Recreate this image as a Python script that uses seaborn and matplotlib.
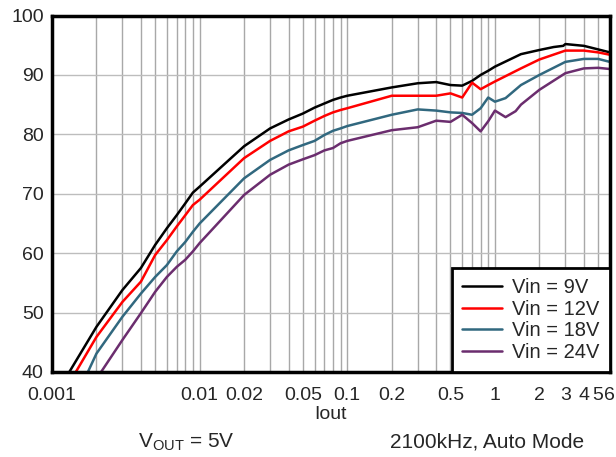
import matplotlib
matplotlib.use("Agg")
import matplotlib.pyplot as plt
from matplotlib.ticker import FixedLocator, NullFormatter
import seaborn as sns
import pandas as pd

sns.set_theme(style="white")
plt.rcParams["font.family"] = ["Liberation Sans", "DejaVu Sans"]
plt.rcParams["mathtext.fontset"] = "custom"
plt.rcParams["mathtext.rm"] = "Liberation Sans"

# efficiency curves

x_9v = [0.00131, 0.002, 0.003, 0.004, 0.005, 0.006, 0.007, 0.008, 0.009, 0.01,
        0.02, 0.03, 0.04, 0.05, 0.06, 0.07, 0.08, 0.09, 0.1,
        0.2, 0.3, 0.4, 0.5, 0.6, 0.7, 0.8, 0.9, 1, 1.5, 2, 2.5, 2.9, 3, 4, 5, 6]
y_9v = [40, 47.6, 53.8, 57.5, 61.4, 64.2, 66.4, 68.4, 70.2, 71.2,
        78.0, 81.0, 82.5, 83.5, 84.5, 85.2, 85.8, 86.2, 86.5,
        87.9, 88.6, 88.8, 88.3, 88.2, 89.0, 90.0, 90.7, 91.4, 93.5, 94.2, 94.7, 94.9, 95.2, 94.9, 94.3, 93.8]

x_12v = [0.00145, 0.002, 0.003, 0.004, 0.005, 0.006, 0.007, 0.008, 0.009, 0.01,
         0.02, 0.03, 0.04, 0.05, 0.06, 0.07, 0.08, 0.09, 0.1,
         0.2, 0.3, 0.4, 0.5, 0.6, 0.7, 0.8, 0.9, 1, 1.5, 2, 3, 4, 5, 6]
y_12v = [40, 45.9, 51.8, 55.2, 59.7, 62.2, 64.5, 66.4, 68.1, 69.0,
         76.0, 78.9, 80.5, 81.3, 82.3, 83.1, 83.7, 84.1, 84.4,
         86.5, 86.5, 86.5, 86.9, 86.2, 88.7, 87.6, 88.3, 88.9, 91.1, 92.6, 94.1, 94.1, 93.8, 93.4]

x_18v = [0.00175, 0.002, 0.003, 0.004, 0.005, 0.006, 0.007, 0.008, 0.009, 0.01,
         0.02, 0.03, 0.04, 0.05, 0.06, 0.07, 0.08, 0.09, 0.1,
         0.2, 0.3, 0.4, 0.5, 0.6, 0.7, 0.8, 0.9, 1, 1.18, 1.5, 2, 3, 4, 5, 6]
y_18v = [40, 43.1, 49.3, 53.2, 56.0, 58.0, 60.3, 61.9, 63.6, 65.0,
         72.6, 75.7, 77.3, 78.2, 78.9, 79.9, 80.6, 81.0, 81.4,
         83.3, 84.2, 84.0, 83.7, 83.6, 83.3, 84.4, 86.2, 85.5, 86.1, 88.3, 90.0, 92.2, 92.7, 92.7, 92.2]

x_24v = [0.00215, 0.003, 0.004, 0.005, 0.006, 0.007, 0.008, 0.009, 0.01,
         0.02, 0.03, 0.04, 0.05, 0.06, 0.07, 0.08, 0.09, 0.1,
         0.2, 0.3, 0.4, 0.5, 0.6, 0.7, 0.8, 0.9, 1, 1.18, 1.38, 1.5, 2, 3, 4, 5, 6]
y_24v = [40, 45.4, 49.9, 53.5, 56.0, 57.7, 58.9, 60.3, 61.7,
         69.8, 73.2, 74.9, 75.8, 76.5, 77.3, 77.7, 78.5, 78.9,
         80.7, 81.2, 82.3, 82.1, 83.3, 81.9, 80.5, 82.2, 84.0, 82.9, 83.9, 85.0, 87.5, 90.3, 91.1, 91.2, 91.0]

series = ["Vin = 9V", "Vin = 12V", "Vin = 18V", "Vin = 24V"]
colors = ["#000000", "#ff0000", "#31687f", "#6b2d6e"]

x_ticks = [0.001, 0.01, 0.02, 0.05, 0.1, 0.2, 0.5, 1, 2, 3, 4, 5, 6]
x_tick_labels = ["0.001", "0.01", "0.02", "0.05", "0.1", "0.2", "0.5", "1", "2", "3", "4", "5", "6"]
y_ticks = [40, 50, 60, 70, 80, 90, 100]

frames = []
for name, xs, ys in zip(series, [x_9v, x_12v, x_18v, x_24v], [y_9v, y_12v, y_18v, y_24v]):
    frames.append(pd.DataFrame({"Iout": xs, "eff": ys, "series": name}))
df = pd.concat(frames, ignore_index=True)

fig = plt.figure(figsize=(6.16, 4.57), dpi=100)
ax = fig.add_axes([0.0844, 0.186, 0.9056, 0.780])

sns.lineplot(data=df, x="Iout", y="eff", hue="series", palette=colors,
             hue_order=series, linewidth=1.8, sort=False, ax=ax)

ax.set_xscale("log")
ax.set_xlim(0.001, 6)
ax.set_ylim(40, 100)

# grid: decades plus 2..9 subdivisions
minor = [m * 10.0 ** e for e in range(-3, 1) for m in range(2, 10)]
ax.xaxis.set_major_locator(FixedLocator(x_ticks))
ax.set_xticklabels(x_tick_labels)
ax.xaxis.set_minor_locator(FixedLocator([v for v in minor if v <= 6 and v not in x_ticks]))
ax.xaxis.set_minor_formatter(NullFormatter())
ax.set_yticks(y_ticks)
ax.grid(True, which="both", axis="x", color="#a8a8a8", linewidth=1)
ax.grid(True, which="major", axis="y", color="#bdbdbd", linewidth=1)
ax.tick_params(axis="both", which="both", length=0, labelsize=14)
ax.tick_params(axis="x", pad=11)
ax.tick_params(axis="y", pad=6)

for s in ax.spines.values():
    s.set_linewidth(2.5)
    s.set_color("black")

ax.set_xlabel("Iout", fontsize=14, labelpad=1)
ax.set_ylabel("")

leg = ax.legend(loc="lower right", fontsize=14.5, frameon=True, fancybox=False,
                borderaxespad=0, handlelength=2.0, labelspacing=0.13,
                borderpad=0.5, handletextpad=0.5)
leg.get_frame().set_edgecolor("black")
leg.get_frame().set_linewidth(2)
leg.get_frame().set_alpha(1)

fig.text(0.303, 0.02, r"V$_{\mathrm{OUT}}$ = 5V", ha="center", fontsize=15)
fig.text(0.79, 0.02, "2100kHz, Auto Mode", ha="center", fontsize=15)

fig.savefig("out.png", dpi=100)
